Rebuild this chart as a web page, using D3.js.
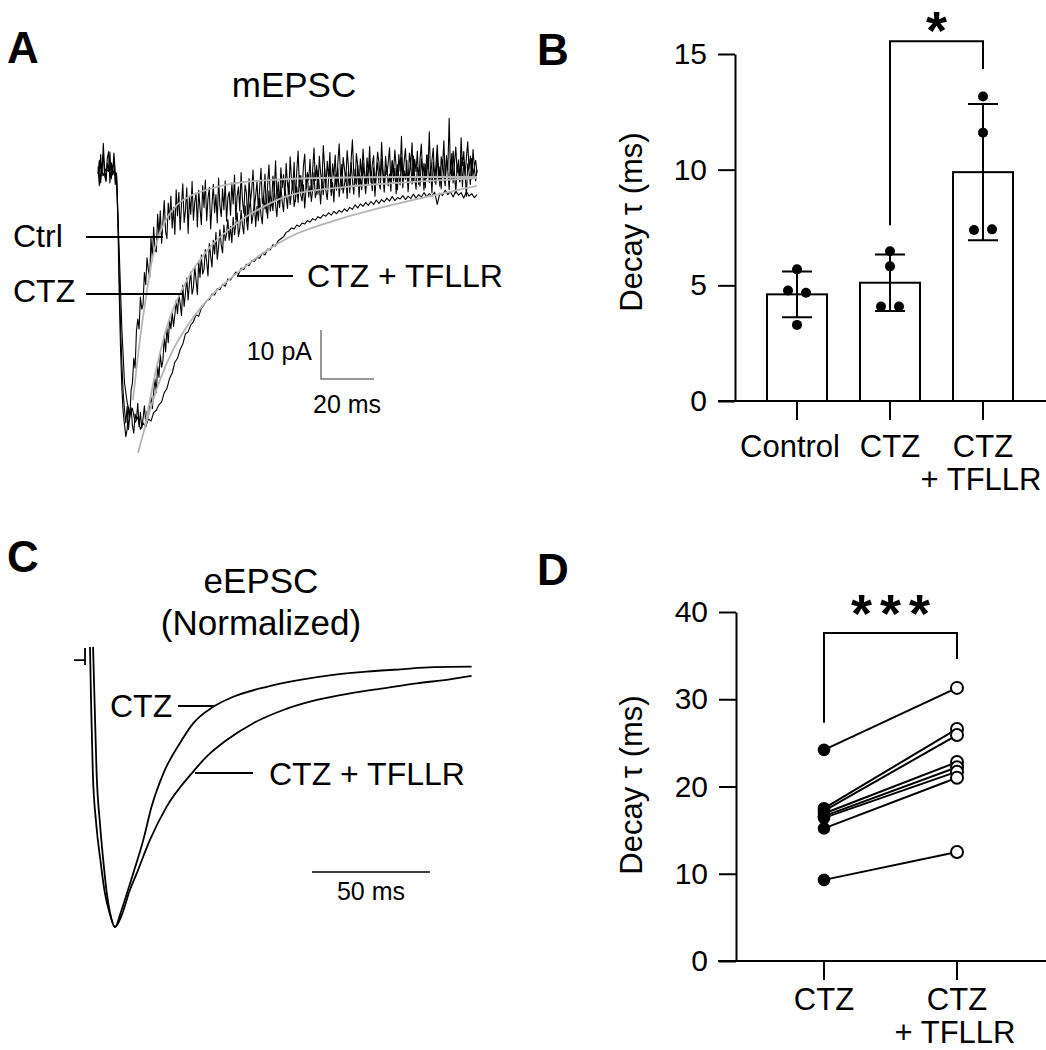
<!DOCTYPE html>
<html>
<head>
<meta charset="utf-8">
<title>Decay tau</title>
<style>
    body{ margin:0; background:#fff; }
    svg{ display:block; font-family:"Liberation Sans", Arial, Helvetica, sans-serif; }
    .trace{ fill:none; stroke:#000; stroke-width:1.1; stroke-linejoin:round; }
    .etrace{ fill:none; stroke:#000; stroke-width:1.8; }
    .fit{ fill:none; stroke:#b5b5b5; stroke-width:1.8; }
    .lead{ stroke:#000; stroke-width:2; }
    .axis path, .axis line{ stroke:#000; stroke-width:2; }
    .axis text{ font-size:30px; fill:#000; }
    .lbl{ font-size:32px; fill:#000; }
    .title{ font-size:35px; fill:#000; }
    .small{ font-size:25px; fill:#000; }
    .panel{ font-size:44px; font-weight:bold; fill:#000; }
    .star{ font-size:54px; font-weight:bold; fill:#000; }
</style>
</head>
<body>
<script src="https://cdn.jsdelivr.net/npm/d3@7"></script>
<script>
// ---------- A: mEPSC traces (pA) ----------
var dtCtrl = 0.5, dtCtz = 0.5, dtTfllr = 1;   // sampling interval, ms
var mepscCtrl = [
    2.1,-1.8,4.6,0.2,6.9,1.5,-0.7,3.8,5.2,-1.2,2.7,0.4,4.9,1.1,-0.8,-9,-24,-35,-43,-48,
    -50.5,-53,-51.5,-47,-49,-43.5,-42,-37,-39,-31.5,-29,-31,-24.5,-27,-26,-19.5,-22,-16.5,-19,-20.5,
    -12.5,-16.8,-10.2,-14.9,-15.3,-7.6,-11.8,-6.9,-13.5,-9.2,-4.8,-11.1,-12.6,-5.3,-8.7,-3.9,-10.4,-6.2,-11.7,-2.6,
    -7.9,-3.1,-10.8,-5.6,-1.4,-9.3,-6.8,-2.2,-11.5,-4.0,-7.6,-0.9,-8.8,-5.1,-3.3,-10.2,-2.7,-6.4,-9.7,-1.8,
    -6.2,-0.6,-8.9,-4.4,-2.1,-10.6,-5.8,-1.5,-7.3,-3.6,-9.4,-0.2,-5.9,-8.1,-2.4,-6.7,-0.8,-9.0,-4.2,-3.0,
    -7.8,-1.2,-5.5,0.4,-8.6,-3.9,-2.0,-6.9,0.9,-4.7,-7.4,-1.6,-3.2,-9.1,-0.3,-5.2,-2.6,1.4,-6.3,-3.8,
    -0.9,-6.7,-2.3,1.8,-5.4,-4.0,0.6,-7.2,-1.7,2.5,-3.6,-5.8,0.2,-2.9,3.3,-4.5,-1.0,-6.1,1.9,-2.2,
    0.5,-4.3,2.8,-1.5,-3.7,4.1,-0.4,-2.6,3.0,-5.0,1.2,5.3,-1.9,0.3,-3.1,2.2,4.7,-2.4,0.9,-0.6,
    3.6,-2.8,1.5,5.9,-0.7,2.4,-3.5,4.3,0.8,-1.6,6.4,1.9,-2.1,3.2,-0.2,5.0,-3.0,2.7,0.1,4.5,
    -1.8,2.9,6.8,0.3,-2.5,4.0,1.6,-0.9,5.4,2.1,-3.2,3.5,7.6,0.6,-1.3,4.8,2.3,-2.0,3.7,0.0,
    5.7,1.4,-2.3,3.9,0.8,6.2,-1.1,2.6,4.4,-2.7,1.0,5.1,3.0,-0.5,7.1,1.8,-1.9,4.2,0.5,2.9,
    6.0,-1.4,3.4,0.9,5.5,2.2,-2.6,4.6,1.2,8.3,-0.3,3.1,5.8,0.4,-1.7,4.9,2.5,7.0,-0.8,3.6,
    1.1,5.3,-1.5,3.8,6.7,0.2,2.8,-2.2,4.5,1.7,9.2,0.0,3.3,5.9,-1.0,2.4,6.5,1.3,-1.9,4.1,
    2.0,7.4,-0.6,3.7,1.5,12.0,0.7,4.8,-1.2,2.9,6.1,0.9,3.5,-0.9,8.0,2.3,5.2,0.4,3.9,7.2,
    1.6,4.3,-0.4,5.6,2.1,3.4,0.8];
var mepscCtz = [
    0.6,3.4,-1.2,2.1,4.5,0.3,-0.9,2.8,1.4,5.1,-0.4,1.9,3.2,-1.5,0.8,-7.5,-20,-30,-38,-44,
    -47.5,-50.2,-46.8,-51.5,-48.9,-47.1,-50.8,-52.3,-48.4,-49.6,-46.2,-50.9,-48.0,-51.2,-49.3,-46.7,-50.1,-47.8,-49.0,-46.4,
    -45.0,-47.3,-43.9,-41.2,-44.0,-38.6,-40.9,-36.1,-38.8,-37.5,-32.4,-35.7,-30.9,-33.8,-29.2,-31.0,-27.6,-30.5,-28.1,-25.2,
    -27.9,-24.0,-25.8,-28.3,-22.1,-26.4,-23.7,-20.6,-25.1,-21.8,-19.4,-23.9,-22.6,-18.3,-21.1,-24.0,-17.2,-20.5,-15.9,-19.8,
    -18.9,-14.8,-17.3,-20.2,-13.6,-16.1,-18.4,-12.9,-15.7,-11.3,-16.8,-14.2,-10.7,-13.9,-15.5,-9.8,-13.0,-11.6,-8.7,-12.9,
    -10.1,-13.4,-8.2,-11.8,-9.6,-7.3,-12.2,-10.5,-6.8,-9.9,-11.6,-5.9,-8.7,-10.8,-6.4,-4.9,-9.5,-7.7,-5.2,-10.1,
    -6.0,-8.9,-4.3,-7.8,-9.6,-3.9,-6.5,-5.1,-8.4,-2.8,-7.0,-4.6,-6.9,-2.2,-5.7,-8.1,-3.4,-6.2,-1.9,-5.0,
    -7.1,-2.5,-4.0,-6.4,-1.2,-5.6,-3.3,-0.8,-6.0,-4.4,-2.0,-5.2,0.3,-3.7,-4.9,-1.6,-6.3,-2.4,0.6,-4.1,
    -1.8,-5.0,-2.6,0.9,-4.2,-3.1,1.4,-2.0,-5.5,-0.7,-3.6,1.8,-2.9,-4.6,-0.3,2.2,-3.8,-1.1,-5.1,0.5,
    -2.7,1.9,-4.0,-0.9,2.6,-3.3,-1.5,0.8,-4.4,1.2,-2.1,3.0,-0.6,-3.5,1.6,-1.9,2.4,-4.1,0.2,-2.6,
    2.7,-0.4,-3.4,1.5,-1.7,3.3,0.1,-2.8,1.9,-3.9,0.7,2.9,-1.2,-2.5,3.6,0.4,-3.1,1.1,2.2,-1.8,
    0.6,-2.9,3.1,-0.8,1.8,-3.4,2.5,0.2,-1.6,4.0,-2.2,1.3,-0.5,3.4,-3.0,0.9,2.7,-1.4,4.3,-0.1,
    -2.5,2.0,0.8,-1.9,3.7,1.0,-2.7,2.6,-0.3,4.6,-1.1,1.6,-3.2,3.0,0.5,-1.5,5.0,-0.7,2.1,-2.4,
    3.5,0.2,-1.8,4.4,1.2,-2.6,2.9,-0.5,5.3,0.9,-3.3,2.2,1.4,-1.0,4.1,-2.0,3.0,0.6,-3.9,2.7,
    1.0,-1.5,3.8,0.3,2.0,-0.8,1.5];
var mepscTfllr = [
    0.8,2.2,0.3,1.7,1.1,2.9,0.6,0.2,-15,-31,-42,-46,-48.5,-47.2,-50.1,-49.0,-51.5,-50.2,-51.0,-49.4,
    -49.8,-48.1,-47.6,-46.5,-45.9,-44.0,-43.2,-41.1,-40.0,-37.8,-37.0,-35.2,-34.1,-32.0,-31.6,-30.2,-29.5,-28.1,-28.4,-26.8,
    -26.1,-25.2,-25.0,-23.9,-24.1,-22.8,-23.0,-21.9,-22.3,-20.8,-21.0,-20.2,-19.4,-19.9,-18.6,-18.9,-17.8,-18.1,-17.0,-17.3,
    -16.4,-16.6,-15.5,-15.9,-14.7,-14.9,-13.8,-14.1,-13.0,-12.6,-12.2,-11.3,-11.0,-10.4,-10.6,-9.8,-10.1,-9.4,-9.6,-8.9,
    -9.2,-8.5,-8.8,-8.1,-8.4,-7.7,-8.0,-7.3,-7.8,-7.0,-7.5,-6.8,-7.2,-6.5,-7.0,-6.2,-6.6,-5.7,-6.3,-5.5,
    -6.0,-5.2,-5.8,-5.0,-5.6,-4.7,-5.4,-4.6,-5.1,-4.3,-4.9,-4.0,-4.8,-4.2,-4.5,-3.8,-4.6,-3.9,-4.4,-3.5,
    -4.3,-3.6,-4.1,-3.2,-4.0,-3.4,-3.9,-3.1,-5.6,-3.3,-3.8,-2.7,-3.6,-3.0,-4.1,-2.8,-3.7,-3.2,-4.3,-3.0,
    -3.9,-3.4,-4.2,-3.6];
// exponential fits (grey), ms / pA
var fitCtrlT = [13.2,15.8,18.5,20.8,23.4,26,29.8,34.7,42.3,52.5,66,83.8,114,143];
var fitCtrlV = [-45.5,-33.3,-23.1,-15.9,-11.4,-8.4,-5.7,-3.9,-2.4,-1.2,-0.6,-0.2,0,0];
var fitCtzT = [17.7,21.5,26,33.6,42.3,52.5,62.3,72.5,94,119,143];
var fitCtzV = [-51,-40.4,-30.6,-21,-14.3,-9.4,-6.1,-3.7,-2.0,-1.0,-0.2];
var fitTfllrT = [15.1,19.6,23.4,28.3,34.7,42.3,52.5,62.3,72.5,87.5,106.4,125.3,143];
var fitTfllrV = [-56.3,-47.6,-41.4,-35.3,-29.6,-24.5,-19.6,-15.5,-12.2,-9.2,-6.3,-3.9,-1.8];

// ---------- B: decay tau, individual cells (ms) ----------
var catsB = ["Control","CTZ","CTZ + TFLLR"];
var tickLabelsB = [["Control"],["CTZ"],["CTZ","+ TFLLR"]];
var dotsControl = [5.69,4.78,4.68,3.29];
var dotsCtz = [6.47,5.82,4.08,4.08];
var dotsCtzTfllr = [13.16,11.6,7.39,7.42];
var ticksB = [0,5,10,15];
var sigB = {from:"CTZ", to:"CTZ + TFLLR", top:15.55, leftEnd:7.6, rightEnd:14.35, mark:"*"};

// ---------- C: eEPSC normalized (ms / normalized amplitude) ----------
var eCtzT = [0,0.5,1.2,2.6,4.4,6.3,8.3,10.6,13.1,16.1,18.3,22.6,26.1,31.1,38.9,43.8,52.2,60.7,74.9,89,103.1,117.2,131.4,145.5,161.7];
var eCtzV = [0.061,-0.167,-0.417,-0.606,-0.746,-0.871,-0.947,-1.0,-0.943,-0.86,-0.797,-0.670,-0.544,-0.418,-0.292,-0.228,-0.166,-0.128,-0.090,-0.064,-0.045,-0.033,-0.024,-0.016,-0.014];
var eTfllrT = [1.3,2.0,2.8,4.2,5.6,7.1,8.5,10.6,13.6,16.9,19.8,25.4,32.5,43.1,49.4,57.9,69.2,81.9,96.1,110.2,124.3,138.4,152.5,161.7];
var eTfllrV = [0.061,-0.167,-0.417,-0.606,-0.746,-0.871,-0.947,-1.0,-0.951,-0.86,-0.797,-0.670,-0.544,-0.418,-0.355,-0.292,-0.228,-0.178,-0.140,-0.115,-0.096,-0.077,-0.062,-0.049];
var stimT = [-6.8,-2.1];
var stimV = [0.011,0.057,-0.008];

// ---------- D: paired decay tau (ms) ----------
var catsD = ["CTZ","CTZ + TFLLR"];
var tickLabelsD = [["CTZ"],["CTZ","+ TFLLR"]];
var pairCtz = [24.2,17.5,17.2,16.9,16.6,16.4,15.2,9.3];
var pairCtzTfllr = [31.3,26.6,25.9,22.8,22.2,21.7,21.0,12.5];
var ticksD = [0,10,20,30,40];
var sigD = {from:"CTZ", to:"CTZ + TFLLR", top:37.6, leftEnd:27.3, rightEnd:34.6, mark:"***"};

var width = 1046, height = 1050;
var svg = d3.select("body").append("svg")
            .attr("width", width)
            .attr("height", height);

function zip(a, b){ return a.map(function(v, i){ return [v, b[i]]; }); }

function panelLetter(t, x, y){
    svg.append("text").attr("class","panel").attr("x", x).attr("y", y).text(t);
}
panelLetter("A", 7, 63);
panelLetter("B", 537, 65);
panelLetter("C", 7, 572);
panelLetter("D", 537, 585);

// ================= Panel A =================
var xA = d3.scaleLinear().domain([0,143]).range([98,477]);
var yA = d3.scaleLinear().domain([0,-52]).range([177,431.8]);
function traceLine(dt){
    return d3.line().x(function(d,i){ return xA(i*dt); }).y(function(d){ return yA(d); });
}
var fitLine = d3.line().x(function(d){ return xA(d[0]); }).y(function(d){ return yA(d[1]); })
                .curve(d3.curveMonotoneX);

svg.append("path").attr("class","trace").attr("d", traceLine(dtTfllr)(mepscTfllr));
svg.append("path").attr("class","trace").attr("d", traceLine(dtCtz)(mepscCtz));
svg.append("path").attr("class","trace").attr("d", traceLine(dtCtrl)(mepscCtrl));
[zip(fitCtrlT,fitCtrlV), zip(fitCtzT,fitCtzV), zip(fitTfllrT,fitTfllrV)].forEach(function(f){
    svg.append("path").attr("class","fit").attr("d", fitLine(f));
});

svg.append("text").attr("class","title").attr("x",294).attr("y",97).attr("text-anchor","middle").text("mEPSC");
svg.append("text").attr("class","lbl").attr("x",13).attr("y",247).text("Ctrl");
svg.append("text").attr("class","lbl").attr("x",13).attr("y",302).text("CTZ");
svg.append("text").attr("class","lbl").attr("x",307).attr("y",287).text("CTZ + TFLLR");
svg.append("line").attr("class","lead").attr("x1",86).attr("x2",163).attr("y1",237).attr("y2",237);
svg.append("line").attr("class","lead").attr("x1",86).attr("x2",182).attr("y1",294).attr("y2",294);
svg.append("line").attr("class","lead").attr("x1",237).attr("x2",293).attr("y1",276).attr("y2",276);

// scale bar 10 pA / 20 ms
var sbx = 321, sby = 379;
var sbH = yA(-10) - yA(0), sbW = xA(20) - xA(0);
svg.append("path").attr("d","M"+sbx+","+(sby-sbH)+"V"+sby+"H"+(sbx+sbW))
   .attr("fill","none").attr("stroke","#777").attr("stroke-width",1.5);
svg.append("text").attr("class","small").attr("x",312).attr("y",360).attr("text-anchor","end").text("10 pA");
svg.append("text").attr("class","small").attr("x",313).attr("y",413).text("20 ms");

// ================= Panel C =================
var xC = d3.scaleLinear().domain([0,50]).range([90,208]);
var yC = d3.scaleLinear().domain([0,-1]).range([663,927]);
var eLine = d3.line().x(function(d){ return xC(d[0]); }).y(function(d){ return yC(d[1]); })
              .curve(d3.curveMonotoneX);
svg.append("path").attr("class","etrace").attr("d", eLine(zip(eCtzT,eCtzV)));
svg.append("path").attr("class","etrace").attr("d", eLine(zip(eTfllrT,eTfllrV)));
// stimulus artefact
svg.append("path").attr("class","etrace")
   .attr("d","M"+xC(stimT[0])+","+yC(stimV[0])+"H"+xC(stimT[1])+"M"+xC(stimT[1])+","+yC(stimV[1])+"V"+yC(stimV[2]));

svg.append("text").attr("class","title").attr("x",261).attr("y",593).attr("text-anchor","middle").text("eEPSC");
svg.append("text").attr("class","title").attr("x",261).attr("y",635).attr("text-anchor","middle").text("(Normalized)");
svg.append("text").attr("class","lbl").attr("x",110).attr("y",717).text("CTZ");
svg.append("text").attr("class","lbl").attr("x",269).attr("y",785).text("CTZ + TFLLR");
svg.append("line").attr("class","lead").attr("x1",178).attr("x2",215).attr("y1",706).attr("y2",706);
svg.append("line").attr("class","lead").attr("x1",195).attr("x2",253).attr("y1",773).attr("y2",773);
svg.append("line").attr("stroke","#000").attr("stroke-width",1.5)
   .attr("x1",312).attr("x2",312 + xC(50) - xC(0)).attr("y1",872).attr("y2",872);
svg.append("text").attr("class","small").attr("x",371).attr("y",900).attr("text-anchor","middle").text("50 ms");

// ================= shared axis helpers =================
function yAxis(scale, ticks, x){
    var g = svg.append("g").attr("class","axis").attr("transform","translate("+x+",0)")
               .call(d3.axisLeft(scale).tickValues(ticks).tickSize(17).tickPadding(11).tickSizeOuter(0));
    g.attr("font-family", null).attr("font-size", null);
    return g;
}
function xBase(xscale, yscale, cats, labels, y1, y2, nudge){
    var y0 = yscale(0);
    svg.append("line").attr("stroke","#000").attr("stroke-width",2)
       .attr("x1",718).attr("x2",1046).attr("y1",y0).attr("y2",y0);
    cats.forEach(function(c, i){
        svg.append("line").attr("stroke","#000").attr("stroke-width",2)
           .attr("x1",xscale(c)).attr("x2",xscale(c)).attr("y1",y0).attr("y2",y0+19);
        labels[i].forEach(function(l, k){
            svg.append("text").attr("font-size","31px")
               .attr("x",xscale(c) + (nudge ? nudge[i] : 0) + (k===0 ? 0 : -2))
               .attr("y", k===0 ? y1 : y2)
               .attr("text-anchor","middle").text(l);
        });
    });
}
function yTitle(x, y){
    svg.append("text").attr("font-size","31px")
       .attr("transform","translate("+x+","+y+") rotate(-90)")
       .attr("text-anchor","middle").text("Decay \u03C4 (ms)");
}
function bracket(xscale, yscale, s, starY){
    var xl = xscale(s.from), xr = xscale(s.to);
    svg.append("path").attr("fill","none").attr("stroke","#000").attr("stroke-width",2)
       .attr("d","M"+xl+","+yscale(s.leftEnd)+"V"+yscale(s.top)+"H"+xr+"V"+yscale(s.rightEnd));
    var multi = s.mark.length > 1;
    svg.append("text").attr("class","star")
       .attr("x",(xl+xr)/2 + (multi ? 4 : 0)).attr("y",starY)
       .attr("text-anchor","middle").attr("letter-spacing", multi ? 8 : 0).text(s.mark);
}

// ================= Panel B =================
var xB = d3.scalePoint().domain(catsB).range([797,983]);
var yB = d3.scaleLinear().domain([0,15]).range([401,54]);
var groupsB = [dotsControl, dotsCtz, dotsCtzTfllr];
var barW = 60;

yAxis(yB, ticksB, 735);
xBase(xB, yB, catsB, tickLabelsB, 457, 490, [-7,0,0]);
yTitle(642, 222);

// spread dots whose values nearly coincide
function spread(vals, thr, step){
    return vals.map(function(v, i){
        var near = [];
        vals.forEach(function(w, j){ if(Math.abs(w - v) < thr) near.push(j); });
        if(near.length < 2) return 0;
        return (near.indexOf(i) - (near.length-1)/2) * step;
    });
}

groupsB.forEach(function(vals, i){
    var c = catsB[i], cx = xB(c);
    var m = d3.mean(vals), sd = d3.deviation(vals);
    svg.append("rect").attr("x",cx-barW/2).attr("width",barW)
       .attr("y",yB(m)).attr("height",yB(0)-yB(m))
       .attr("fill","#fff").attr("stroke","#000").attr("stroke-width",2);
    svg.append("path").attr("fill","none").attr("stroke","#000").attr("stroke-width",2)
       .attr("d","M"+cx+","+yB(m-sd)+"V"+yB(m+sd)
                +"M"+(cx-15)+","+yB(m+sd)+"H"+(cx+15)
                +"M"+(cx-15)+","+yB(m-sd)+"H"+(cx+15));
    var off = spread(vals, 0.5, 18);
    svg.selectAll(null).data(vals).enter().append("circle")
       .attr("cx", function(d,k){ return cx + off[k]; })
       .attr("cy", function(d){ return yB(d); })
       .attr("r", 5).attr("fill","#000");
});
bracket(xB, yB, sigB, 49);

// ================= Panel D =================
var xD = d3.scalePoint().domain(catsD).range([824,957]);
var yD = d3.scaleLinear().domain([0,40]).range([961,612]);

yAxis(yD, ticksD, 736);
xBase(xD, yD, catsD, tickLabelsD, 1010, 1043);
yTitle(642, 785);

var pairs = zip(pairCtz, pairCtzTfllr);
svg.selectAll(null).data(pairs).enter().append("line")
   .attr("x1", xD(catsD[0])).attr("x2", xD(catsD[1]))
   .attr("y1", function(d){ return yD(d[0]); })
   .attr("y2", function(d){ return yD(d[1]); })
   .attr("stroke","#000").attr("stroke-width",2);
svg.selectAll(null).data(pairCtz).enter().append("circle")
   .attr("cx", xD(catsD[0])).attr("cy", function(d){ return yD(d); })
   .attr("r", 6.3).attr("fill","#000");
svg.selectAll(null).data(pairCtzTfllr).enter().append("circle")
   .attr("cx", xD(catsD[1])).attr("cy", function(d){ return yD(d); })
   .attr("r", 6).attr("fill","#fff").attr("stroke","#000").attr("stroke-width",2);
bracket(xD, yD, sigD, 632);
</script>
</body>
</html>
